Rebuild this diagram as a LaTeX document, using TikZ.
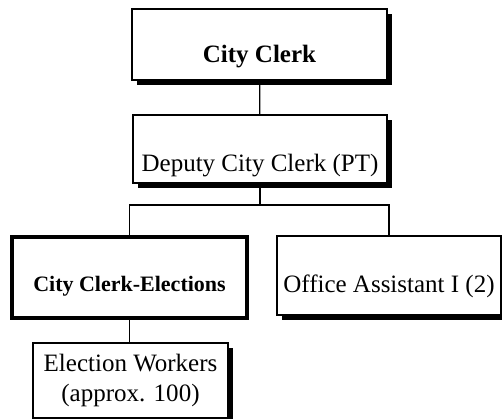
\documentclass[tikz,border=0pt]{standalone}
\usepackage{fontspec}
\setmainfont{Liberation Serif}
\usetikzlibrary{positioning,shadows}
\definecolor{orgInk}{HTML}{000000}
\tikzset{
  orgBox/.style={
    rectangle,
    draw=orgInk,
    fill=white,
    line width=1.3pt,
    inner sep=0pt,
    align=center,
    font=\fontsize{25}{30}\selectfont,
    drop shadow={shadow xshift=5pt, shadow yshift=-5pt, fill=orgInk, opacity=1}
  },
  orgBoxBold/.style={
    rectangle,
    draw=orgInk,
    fill=white,
    line width=3.2pt,
    inner sep=0pt,
    align=center,
    font=\fontsize{22}{26}\selectfont\bfseries,
    drop shadow={shadow xshift=1.5pt, shadow yshift=-1.5pt, fill=orgInk, opacity=1}
  },
  link/.style={
    line width=1.3pt,
    draw=orgInk
  }
}

\begin{document}
\begin{tikzpicture}[x=1pt,y=-1pt]
  \useasboundingbox (0,0) rectangle (502,419);
  \node[orgBox,anchor=base,minimum width=255pt,text height=54pt,text depth=17pt,
        font=\fontsize{25}{30}\selectfont\bfseries] (clerk) at (259.5,63) {City Clerk};
  \node[orgBox,anchor=base,minimum width=254pt,text height=57pt,text depth=11pt] (deputy) at (260,172) {Deputy City Clerk (PT)};
  \node[orgBoxBold,anchor=base,minimum width=235pt,text height=54pt,text depth=27pt] (elections) at (129.5,291) {City Clerk-Elections};
  \node[orgBox,anchor=base,minimum width=224pt,text height=56pt,text depth=23pt] (office) at (389,292) {Office Assistant I (2)};
  \node[orgBox,minimum width=195pt,minimum height=75pt] (workers) at (130.5,380.5) {Election Workers\\(approx. 100)};
  \coordinate (bus) at (260,205);
  \draw[link] (clerk) -- (deputy);
  \draw[link] (deputy.south) -- (bus);
  \draw[link] (elections.north) |- (bus) -| (office.north);
  \draw[link] (elections.south) -- (elections.south |- workers.north);
\end{tikzpicture}
\end{document}
